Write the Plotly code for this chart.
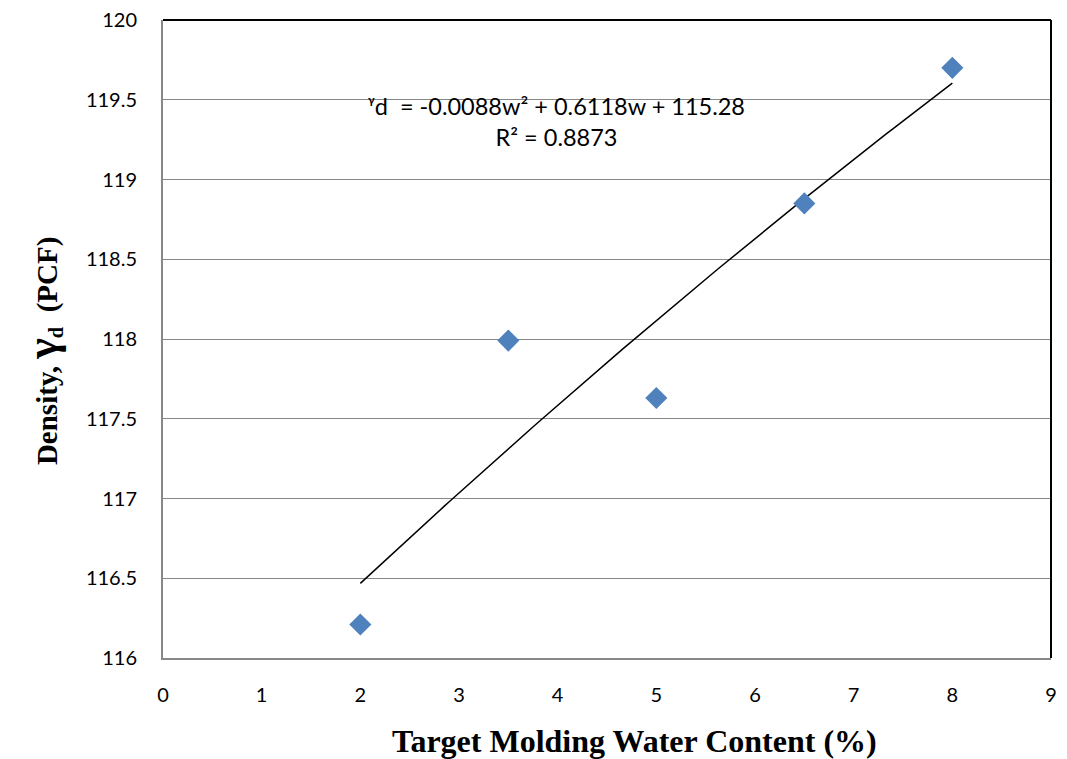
import numpy as np
import plotly.graph_objects as go

water = [2, 3.5, 5, 6.5, 8]
density = [116.21, 117.99, 117.63, 118.85, 119.70]
x_ticks = [0, 1, 2, 3, 4, 5, 6, 7, 8, 9]
y_ticks = [116, 116.5, 117, 117.5, 118, 118.5, 119, 119.5, 120]
y_tick_text = ["116", "116.5", "117", "117.5", "118", "118.5", "119", "119.5", "120"]

coef = np.polyfit(water, density, 2)
wfit = np.linspace(min(water), max(water), 100)
dfit = np.polyval(coef, wfit)

fig = go.Figure()
fig.add_trace(go.Scatter(x=wfit, y=dfit, mode="lines",
                         line=dict(color="black", width=1.5), showlegend=False))
fig.add_trace(go.Scatter(x=water, y=density, mode="markers",
                         marker=dict(symbol="diamond", size=17, color="#4F81BD",
                                     line=dict(width=0)), showlegend=False))

tickfont = dict(family="Lato, Open Sans, sans-serif", size=20, color="black")
xtitlefont = dict(family="Liberation Serif, Times New Roman, serif", size=32,
                  color="black", weight="bold")
ytitlefont = dict(family="Liberation Serif, Times New Roman, serif", size=29,
                  color="black", weight="bold")
fig.update_layout(
    width=1067, height=759,
    margin=dict(l=163, r=16, t=20, b=101, autoexpand=False),
    plot_bgcolor="white", paper_bgcolor="white",
    xaxis=dict(range=[0, 9], tickvals=x_ticks, showgrid=False, zeroline=False,
               showline=True, linecolor="#878787", linewidth=2, automargin=False,
               ticks="outside", ticklen=0, tickfont=tickfont, ticklabelstandoff=18),
    yaxis=dict(range=[116, 120], tickvals=y_ticks, ticktext=y_tick_text,
               showgrid=True, gridcolor="#878787", gridwidth=1.3, zeroline=False,
               showline=True, linecolor="#878787", linewidth=2, automargin=False,
               ticks="outside", ticklen=0, tickfont=tickfont, ticklabelstandoff=20),
    annotations=[
        dict(x=0.443, y=0.89, xref="paper", yref="paper", showarrow=False,
             text="ᵞd  = -0.0088w² + 0.6118w + 115.28<br>R² = 0.8873",
             align="center",
             font=dict(family="Lato, Open Sans, sans-serif", size=23.5, color="black")),
        dict(x=0.5315, y=-0.130, xref="paper", yref="paper", showarrow=False,
             xanchor="center", yanchor="middle",
             text="<b>Target Molding Water Content (%)</b>", font=xtitlefont),
        dict(x=-0.1363, y=0.481, xref="paper", yref="paper", showarrow=False,
             xanchor="center", yanchor="middle", textangle=-90,
             text="<b>Density, </b><span style=\"font-size:44px;font-weight:bold\">γ</span><sub><b>d</b></sub><b>  (PCF)</b>",
             font=ytitlefont),
    ],
    shapes=[dict(type="line", xref="paper", yref="paper", x0=0, x1=1, y0=1, y1=1,
                 line=dict(color="black", width=2)),
            dict(type="line", xref="paper", yref="paper", x0=1, x1=1, y0=0, y1=1,
                 line=dict(color="black", width=2))],
)
fig.write_html("out.html")
